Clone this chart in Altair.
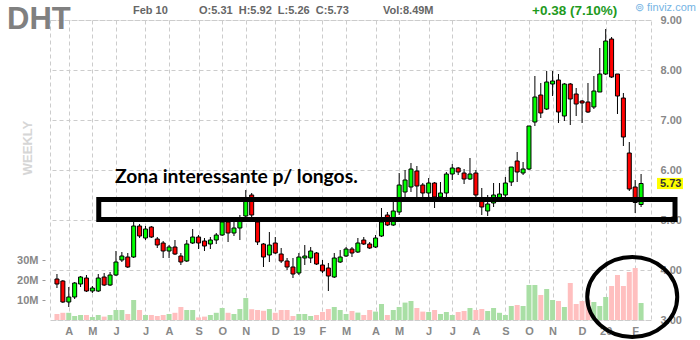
import altair as alt
import pandas as pd

# ---- data (weekly bars, DHT, Mar 2018 - Feb 2020) ----
first_week = "2018-03-23"
opens = [3.82, 3.78, 3.36, 3.46, 3.72, 3.84, 3.58, 3.58, 3.86, 3.70,
         3.90, 4.20, 4.26, 4.26, 4.88, 4.64, 4.86, 4.62, 4.54, 4.38,
         4.46, 4.28, 4.18, 4.54, 4.66, 4.58, 4.52, 4.60, 4.70, 4.96,
         4.74, 4.84, 5.08, 5.50, 4.96, 4.52, 4.30, 4.54, 4.32, 4.18,
         4.06, 3.94, 4.24, 4.24, 4.34, 4.10, 4.04, 3.86, 4.16, 4.28,
         4.42, 4.36, 4.60, 4.52, 4.46, 4.68, 5.10, 4.90, 5.16, 5.56,
         5.66, 5.98, 5.70, 5.54, 5.74, 5.46, 5.54, 5.92, 6.04, 5.94,
         5.82, 5.94, 5.38, 5.18, 5.34, 5.42, 5.50, 5.76, 6.18, 5.94,
         6.02, 6.96, 7.50, 7.22, 7.72, 7.80, 7.08, 7.72, 7.52, 7.38,
         7.36, 7.26, 7.56, 7.92, 8.62, 7.92, 7.44, 6.34, 5.66, 5.31]
highs = [3.92, 3.80, 3.66, 3.76, 3.88, 3.90, 3.68, 3.92, 3.94, 3.96,
         4.38, 4.36, 4.34, 4.96, 4.92, 4.88, 4.88, 4.66, 4.58, 4.50,
         4.60, 4.34, 4.60, 4.82, 4.70, 4.64, 4.66, 4.74, 5.04, 5.04,
         4.96, 5.10, 5.60, 5.54, 5.00, 4.54, 4.76, 4.66, 4.44, 4.24,
         4.24, 4.34, 4.50, 4.46, 4.36, 4.20, 4.14, 4.34, 4.40, 4.46,
         4.46, 4.64, 4.66, 4.56, 4.70, 5.24, 5.16, 5.40, 5.94, 6.00,
         6.14, 6.08, 5.74, 5.84, 5.76, 5.76, 5.96, 6.12, 6.06, 6.02,
         6.24, 6.00, 5.64, 5.50, 5.74, 5.74, 5.86, 6.06, 6.36, 6.16,
         6.88, 7.88, 7.74, 7.98, 7.98, 7.92, 7.74, 7.74, 7.64, 7.40,
         7.74, 7.88, 8.44, 8.82, 8.66, 7.92, 7.54, 6.56, 5.80, 5.92]
lows = [3.64, 3.34, 3.26, 3.42, 3.66, 3.56, 3.54, 3.56, 3.68, 3.68,
        3.88, 4.16, 4.04, 4.24, 4.64, 4.60, 4.64, 4.44, 4.24, 4.24,
        4.30, 4.10, 4.16, 4.52, 4.42, 4.38, 4.42, 4.52, 4.68, 4.56,
        4.68, 4.60, 5.06, 5.06, 4.50, 4.06, 4.16, 4.32, 4.14, 4.00,
        3.84, 3.90, 4.10, 4.14, 4.10, 3.94, 3.58, 3.84, 4.14, 4.26,
        4.26, 4.34, 4.50, 4.42, 4.44, 4.66, 4.88, 4.88, 5.10, 5.46,
        5.56, 5.46, 5.46, 5.46, 5.24, 5.44, 5.46, 5.80, 5.90, 5.72,
        5.80, 5.46, 5.10, 5.08, 5.26, 5.40, 5.44, 5.68, 5.76, 5.90,
        6.00, 6.88, 7.04, 7.20, 7.48, 6.94, 6.98, 6.90, 7.08, 6.94,
        7.14, 7.22, 7.56, 7.90, 7.84, 7.12, 6.48, 5.58, 5.14, 5.26]
closes = [3.72, 3.36, 3.46, 3.74, 3.86, 3.58, 3.64, 3.84, 3.70, 3.90,
          4.16, 4.28, 4.06, 4.88, 4.68, 4.82, 4.66, 4.50, 4.38, 4.46,
          4.32, 4.16, 4.52, 4.66, 4.54, 4.48, 4.60, 4.70, 4.96, 4.74,
          4.84, 5.04, 5.38, 5.10, 4.56, 4.26, 4.50, 4.34, 4.18, 4.06,
          3.92, 4.26, 4.28, 4.38, 4.12, 3.98, 3.88, 4.24, 4.26, 4.42,
          4.34, 4.54, 4.52, 4.44, 4.64, 4.96, 4.90, 5.18, 5.70, 5.80,
          6.02, 5.68, 5.54, 5.74, 5.46, 5.54, 5.92, 6.04, 5.96, 5.82,
          5.92, 5.50, 5.26, 5.32, 5.50, 5.52, 5.74, 6.06, 5.96, 6.02,
          6.88, 7.46, 7.14, 7.76, 7.78, 7.16, 7.72, 7.42, 7.32, 7.34,
          7.16, 7.58, 7.92, 8.58, 7.86, 7.48, 6.66, 5.62, 5.35, 5.73]
volumes_m = [3.0, 3.6, 3.6, 2.0, 2.5, 2.5, 1.5, 2.5, 1.7, 2.5,
             5.0, 5.0, 3.0, 10.0, 5.0, 2.5, 2.5, 2.0, 2.5, 3.0,
             3.6, 6.5, 5.0, 5.0, 1.3, 1.7, 2.5, 3.6, 6.0, 3.6,
             3.0, 5.5, 11.0, 5.4, 5.0, 4.6, 5.5, 3.6, 5.0, 5.0,
             2.0, 3.0, 3.0, 2.0, 2.5, 4.0, 5.5, 6.5, 5.0, 3.0,
             4.5, 3.7, 2.5, 5.0, 4.2, 8.0, 2.5, 5.0, 6.5, 8.7,
             9.5, 6.0, 4.2, 4.0, 5.0, 3.0, 4.0, 2.5, 4.0, 4.5,
             6.0, 5.0, 5.5, 4.5, 6.0, 3.6, 2.5, 7.0, 7.5, 7.0,
             17.5, 17.5, 12.5, 15.5, 10.0, 9.5, 6.5, 18.5, 8.0, 9.5,
             10.0, 9.0, 7.0, 11.5, 17.0, 22.5, 17.0, 24.0, 26.0, 8.49]

price_ticks = [3, 4, 5, 6, 7, 8, 9]
volume_ticks = [10, 20, 30]

dates = pd.date_range(first_week, periods=len(opens), freq="7D")
df = pd.DataFrame({
    "date": dates.strftime("%Y-%m-%d"),
    "open": opens, "high": highs, "low": lows, "close": closes, "vol": volumes_m,
})
month_starts = [d for prev, d in zip(dates[:-1], dates[1:]) if d.month != prev.month]

# annotation (drawn by hand on the original) in data coordinates
zone = pd.DataFrame({"x0": ["2018-05-11T14:00:00Z"], "x1": ["2020-03-25T06:00:00Z"],
                     "y0": [5.01], "y1": [5.41]})
circle = pd.DataFrame({"x": ["2020-02-03T12:00:00Z"], "y": [3.46]})

FONT = "Liberation Sans"
GRID = "#cccccc"
DASH = [4, 3]

x_scale = alt.Scale(type="utc", domain=[
    alt.DateTime(year=2018, month=3, date=20, hours=16, utc=True),
    alt.DateTime(year=2020, month=2, date=19, hours=20, utc=True)])
x_axis = alt.Axis(
    values=[alt.DateTime(year=d.year, month=d.month, date=d.day, utc=True) for d in month_starts],
    labelExpr="utcmonth(datum.value) == 0 ? utcFormat(datum.value, '%y') : slice(utcFormat(datum.value, '%b'), 0, 1)",
    grid=True, gridDash=DASH, gridColor=GRID, ticks=False, domain=False,
    labelPadding=5, labelFont=FONT, labelFontSize=11, labelFontWeight="bold",
    labelColor="#888888", title=None, labelFlush=False, labelOverlap=False)
X = alt.X("date:T", scale=x_scale, axis=x_axis)

y_price = alt.Scale(domain=[3, 9], nice=False, zero=False)
price_axis = alt.Axis(
    orient="right", values=price_ticks, format=".2f", grid=True, gridDash=DASH,
    gridColor=GRID, ticks=False, domain=False, labelPadding=9, labelFont=FONT,
    labelFontSize=11, labelFontWeight="bold", labelColor="#888888", title=None,
    labelFlush=False, labelOverlap=False)

vol_axis = alt.Axis(
    orient="left", values=volume_ticks, labelExpr="datum.value + 'M'", grid=False,
    domain=False, tickSize=3, tickColor="#999999", offset=5, labelPadding=4,
    labelFont=FONT, labelFontSize=11, labelFontWeight="bold", labelColor="#888888",
    title=None, labelFlush=False)

up = "datum.close >= datum.open"
base = alt.Chart(df)

volume = base.mark_bar(size=5).encode(
    x=X,
    y=alt.Y("vol:Q", scale=alt.Scale(domain=[0, 150], nice=False), axis=vol_axis),
    color=alt.condition(up, alt.value("#a9dfa5"), alt.value("#ffbfbf")),
)

wick = base.mark_rule(color="black", strokeWidth=1).encode(
    x=X, y=alt.Y("low:Q", scale=y_price, axis=price_axis), y2="high:Q")
body = base.mark_bar(size=4, stroke="black", strokeWidth=1).encode(
    x=X, y=alt.Y("open:Q", scale=y_price, axis=price_axis), y2="close:Q",
    color=alt.condition(up, alt.value("#00ff00"), alt.value("#ff0000")))

zone_rect = alt.Chart(zone).mark_rect(filled=False, color="black", strokeWidth=5).encode(
    x=alt.X("x0:T", scale=x_scale, axis=x_axis), x2="x1:T",
    y=alt.Y("y0:Q", scale=y_price, axis=price_axis), y2="y1:Q")

ellipse_path = ("M 1 0 C 1 0.491 0.552 0.889 0 0.889 C -0.552 0.889 -1 0.491 -1 0 "
                "C -1 -0.491 -0.552 -0.889 0 -0.889 C 0.552 -0.889 1 -0.491 1 0 Z")
ring = alt.Chart(circle).mark_point(shape=ellipse_path, size=8100, filled=False,
                                    color="black", strokeWidth=4, opacity=1).encode(
    x=alt.X("x:T", scale=x_scale, axis=x_axis),
    y=alt.Y("y:Q", scale=y_price, axis=price_axis))

last = alt.Chart(df.tail(1))
tag_path = "M -1 -0.43 L 1 -0.43 L 1 0.43 L -1 0.43 Z"
last_tag = last.mark_point(shape=tag_path, size=676, filled=True, color="#ffff00",
                           opacity=1).encode(
    x=alt.value(620), y=alt.Y("close:Q", scale=y_price, axis=price_axis))
last_txt = last.mark_text(align="left", baseline="middle", font=FONT, fontSize=11,
                          fontWeight="bold", color="#333333").encode(
    x=alt.value(610), y=alt.Y("close:Q", scale=y_price, axis=price_axis),
    text=alt.Text("close:Q", format=".2f"))

price = alt.layer(wick, body, zone_rect, ring, last_tag, last_txt)


def label(txt, x, y, **kw):
    opts = dict(align="left", baseline="alphabetic", font=FONT)
    opts.update(kw)
    return alt.Chart(pd.DataFrame({"t": [txt]})).mark_text(**opts).encode(
        x=alt.value(x), y=alt.value(y), text="t:N")


texts = [
    label("DHT", -43, 9, fontSize=31, fontWeight="bold", color="#808080"),
    label("Feb 10", 83, -6, fontSize=11, fontWeight="bold", color="#666666"),
    label("O:5.31\u00a0\u00a0H:5.92\u00a0\u00a0L:5.26\u00a0\u00a0C:5.73", 149, -6,
          fontSize=11, fontWeight="bold", color="#666666"),
    label("Vol:8.49M", 333, -6, fontSize=11, fontWeight="bold", color="#666666"),
    label("+0.38 (7.10%)", 482, -5, fontSize=13.5, fontWeight="bold", color="#1e9a1e"),
    label("\u229a finviz.com", 585, -9, fontSize=11, color="#74b4e4"),
    label("WEEKLY", -22, 128, fontSize=13, fontWeight="bold", color="#d6d6d6",
          angle=270, align="center", baseline="middle"),
    label("Zona interessante p/ longos.", 65, 163, font="Lato", fontSize=19.3,
          fontWeight="bold", color="#000000"),
]

chart = alt.layer(volume, price, *texts).resolve_scale(y="independent").properties(
    width=601, height=300,
    padding={"left": 50, "top": 20, "right": 49, "bottom": 20},
    autosize=alt.AutoSizeParams(type="none"),
    background="white",
).configure_view(stroke=GRID, strokeDash=DASH)

chart.save("out.html", embed_options={"renderer": "svg", "actions": False})
